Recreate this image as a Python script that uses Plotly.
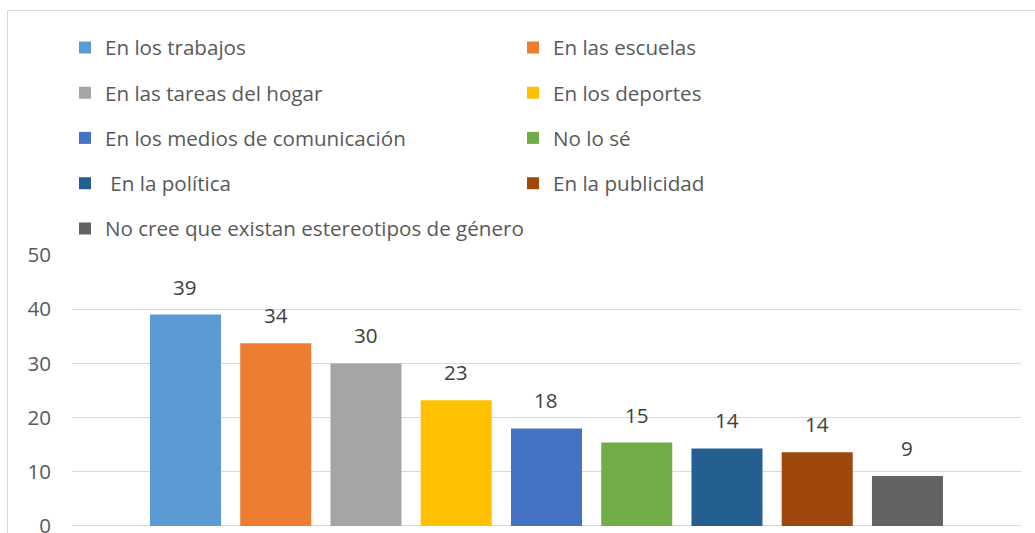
import plotly.graph_objects as go

# Survey answers: where gender stereotypes are perceived (%)
categorias = [
    "En los trabajos",
    "En las escuelas",
    "En las tareas del hogar",
    "En los deportes",
    "En los medios de comunicación",
    "No lo sé",
    "\u00a0En la política",
    "En la publicidad",
    "No cree que existan estereotipos de género",
]
valores = [39.0, 33.7, 30.0, 23.2, 18.0, 15.4, 14.3, 13.6, 9.2]
colores = ["#5B9BD5", "#ED7D31", "#A5A5A5", "#FFC000", "#4472C4",
           "#70AD47", "#255E91", "#9E480E", "#636363"]
y_ticks = [0, 10, 20, 30, 40, 50]

FONT = "Open Sans"
FS = 20.6
W, H = 1035, 533
M_L, M_R, M_T, M_B = 72, 14, 255, 0
Y_MIN, Y_MAX = -1.3, 50
plot_w = W - M_L - M_R
plot_h = H - M_T - M_B


def px_to_paper_y(py):
    return (H - M_B - py) / plot_h


def px_to_paper_x(px):
    return (px - M_L) / plot_w


fig = go.Figure()

# one trace per answer, two legend entries per legend row
for i, (cat, val, col) in enumerate(zip(categorias, valores, colores)):
    legend_id = "legend" if i // 2 == 0 else f"legend{i // 2 + 1}"
    fig.add_trace(go.Bar(
        x=[cat], y=[val], name=cat, base=0,
        marker=dict(color=col, line=dict(width=0)),
        legend=legend_id,
        hoverinfo="skip",
    ))
    fig.add_annotation(
        x=cat, y=val, text=f"{round(val)}",
        showarrow=False, yanchor="bottom", yshift=12,
        font=dict(family=FONT, size=FS, color="#404040"),
    )

# legend rows
row_y_px = [47.5, 92.75, 138, 183.25, 228.5]
legend_style = dict(
    orientation="h", xanchor="left", yanchor="middle",
    x=px_to_paper_x(65), entrywidth=403, entrywidthmode="pixels",
    itemwidth=30, bgcolor="rgba(0,0,0,0)",
    font=dict(family=FONT, size=FS, color="#595959"),
    itemclick=False, itemdoubleclick=False,
)
legends = {}
for r, py in enumerate(row_y_px):
    key = "legend" if r == 0 else f"legend{r + 1}"
    style = dict(legend_style, y=px_to_paper_y(py))
    if r == len(row_y_px) - 1:
        # single long entry on the last row
        style["entrywidth"] = 520
    legends[key] = style

fig.update_layout(
    template="none",
    width=W, height=H,
    margin=dict(l=M_L, r=M_R, t=M_T, b=M_B, pad=0, autoexpand=False),
    paper_bgcolor="white", plot_bgcolor="white",
    barmode="overlay", bargap=0.213,
    showlegend=True,
    font=dict(family=FONT, size=FS, color="#595959"),
    xaxis=dict(
        type="category", categoryorder="array", categoryarray=categorias,
        range=[-1.2576, 9.258], showticklabels=False, automargin=False,
        showgrid=False, zeroline=False, showline=False, fixedrange=True,
        ticks="",
    ),
    yaxis=dict(
        range=[Y_MIN, Y_MAX], tickvals=y_ticks, ticktext=[str(v) for v in y_ticks],
        showgrid=True, gridcolor="#D9D9D9", gridwidth=1, automargin=False,
        zeroline=False, showline=False, ticks="", ticklabelstandoff=20,
        ticklabeloverflow="allow",
        tickfont=dict(family=FONT, size=FS, color="#595959"),
        fixedrange=True,
    ),
    shapes=[dict(
        type="rect", xref="paper", yref="paper", layer="below",
        x0=px_to_paper_x(7.5), x1=px_to_paper_x(W + 10),
        y0=px_to_paper_y(H + 10), y1=px_to_paper_y(10.5),
        line=dict(color="#D9D9D9", width=1), fillcolor="rgba(0,0,0,0)",
    )],
    **legends,
)

fig.write_html("out.html")
